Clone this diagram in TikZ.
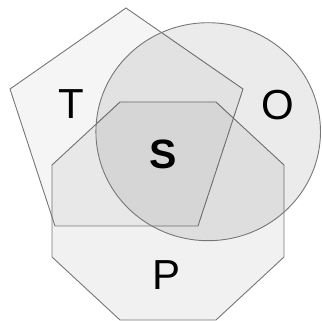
\documentclass[tikz,border=0pt]{standalone}
\usepackage{fontspec}
\setmainfont{Liberation Sans}
\begin{document}
\begin{tikzpicture}[x=1pt,y=-1pt,
  shp/.style={draw={rgb,255:red,118;green,118;blue,118},line width=0.9pt,fill=black},
  lbl/.style={inner sep=0pt,anchor=base,font=\fontsize{42}{48}\selectfont}]
\useasboundingbox (0,0) rectangle (322,321);
% octagon P
\filldraw[shp,fill opacity=0.055] (120,102) -- (216,102) -- (284,165) -- (284,257) -- (216,320) -- (120,320) -- (52,257) -- (52,165) -- cycle;
% pentagon T
\filldraw[shp,fill opacity=0.04] (126,8) -- (243,89) -- (198,226) -- (55,226) -- (10,89) -- cycle;
% circle O
\filldraw[shp,fill opacity=0.08] (208.2,131.7) ellipse [x radius=112.3, y radius=109];
\node[lbl] (T) at (71,118.5) {T};
\node[lbl] (O) at (278,120) {O};
\node[lbl,font=\fontsize{41}{48}\selectfont\bfseries] (S) at (163,168.5) {S};
\node[lbl] (P) at (167,289.5) {P};
\end{tikzpicture}
\end{document}
